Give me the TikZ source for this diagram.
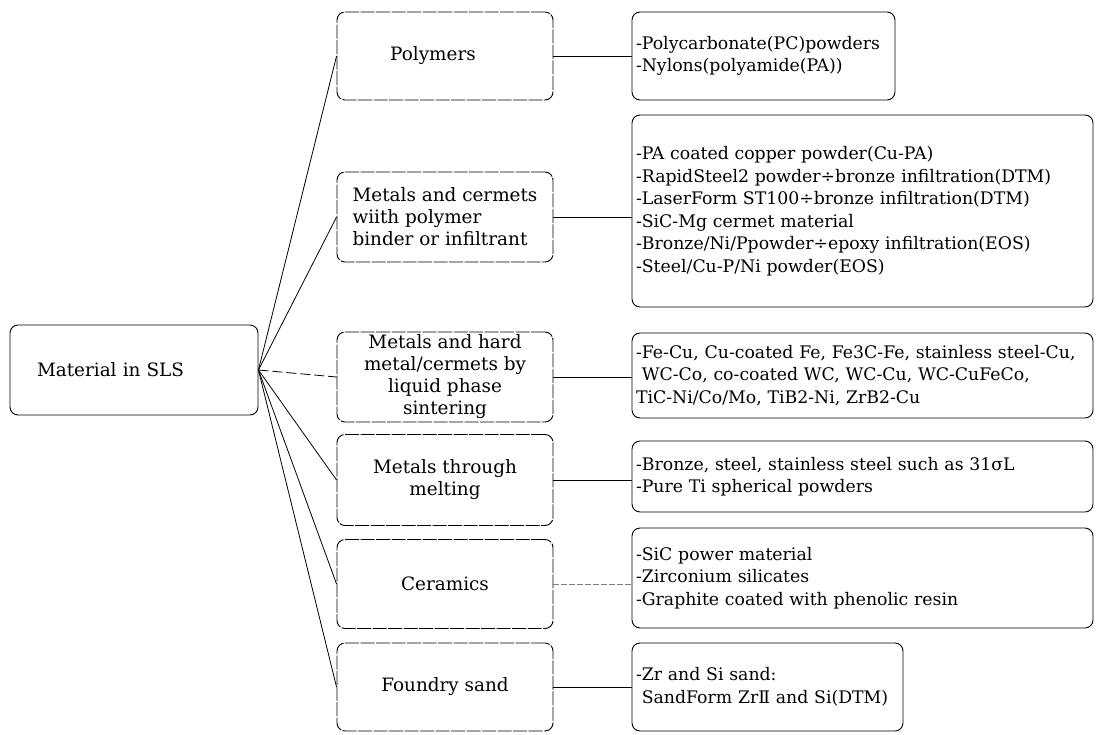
\documentclass[tikz,border=0pt]{standalone}
\usepackage{fontspec}
\setmainfont{DejaVu Serif}
\begin{document}
\begin{tikzpicture}[x=1pt,y=-1pt,
  bigfont/.style={font=\fontsize{18.4}{22}\selectfont},
  listfont/.style={font=\fontsize{17.3}{22.5}\selectfont},
  mainbox/.style={draw, line width=0.9pt, rounded corners=8pt, minimum height=90pt, inner xsep=27pt, inner ysep=0pt, text width=194pt, align=left, bigfont},
  midbox/.style={draw, line width=0.9pt, dash pattern=on 14pt off 1.5pt, rounded corners=8pt, minimum width=216pt, inner sep=0pt, align=center, bigfont},
  listbox/.style={draw, line width=0.9pt, rounded corners=8pt, inner xsep=4pt, inner ysep=0pt, align=left, listfont},
  link/.style={line width=0.8pt},
]
\useasboundingbox (0,0) rectangle (1098,734);
% main
\node[mainbox] (main) at (134,370) {Material in SLS};
% middle
\node[midbox, minimum height=88pt] (pol) at (445,56) {Polymers\hspace*{24pt}};
\node[midbox, minimum height=90pt, align=left] (cer) at (445,217) {Metals and cermets\\wiith polymer\\binder or infiltrant};
\node[midbox, minimum height=90pt] (hard) at (445,377) {Metals and hard\\metal/cermets by\\liquid phase\\sintering};
\node[midbox, minimum height=91pt] (melt) at (445,480) {Metals through\\melting};
\node[midbox, minimum height=89pt] (cera) at (445,584) {Ceramics};
\node[midbox, minimum height=88pt] (found) at (445,687) {Foundry sand};
% right
\node[listbox, text width=255pt, minimum height=88pt] (rpol) at (763.5,56) {-Polycarbonate(PC)powders\\-Nylons(polyamide(PA))};
\node[listbox, text width=453pt, minimum height=192pt] (rcer) at (862.5,211) {-PA coated copper powder(Cu-PA)\\-RapidSteel2 powder÷bronze infiltration(DTM)\\-LaserForm ST100÷bronze infiltration(DTM)\\-SiC-Mg cermet material\\-Bronze/Ni/Ppowder÷epoxy infiltration(EOS)\\-Steel/Cu-P/Ni powder(EOS)};
\node[listbox, text width=453pt, minimum height=85pt] (rhard) at (862.5,375.5) {-Fe-Cu, Cu-coated Fe, Fe3C-Fe, stainless steel-Cu,\\\ WC-Co, co-coated WC, WC-Cu, WC-CuFeCo,\\TiC-Ni/Co/Mo, TiB2-Ni, ZrB2-Cu};
\node[listbox, text width=453pt, minimum height=71pt] (rmelt) at (862.5,476.5) {-Bronze, steel, stainless steel such as 31σL\\-Pure Ti spherical powders};
\node[listbox, text width=453pt, minimum height=100pt] (rcera) at (862.5,578) {-SiC power material\\-Zirconium silicates\\-Graphite coated with phenolic resin};
\node[listbox, text width=263pt, minimum height=88pt] (rfound) at (767.5,687) {-Zr and Si sand:\\\ SandForm ZrⅡ and Si(DTM)};
% connectors main -> middle
\draw[link] (main.east) -- (pol.west);
\draw[link] (main.east) -- (cer.west);
\draw[link, dash pattern=on 10pt off 4pt] (main.east) -- (hard.west);
\draw[link] (main.east) -- (melt.west);
\draw[link] (main.east) -- (cera.west);
\draw[link] (main.east) -- (found.west);
% middle -> right
\draw[link] (pol.east) -- (rpol.west);
\draw[link] (cer.east) -- (cer.east -| rcer.west);
\draw[link] (hard.east) -- (hard.east -| rhard.west);
\draw[link] (melt.east) -- (melt.east -| rmelt.west);
\draw[link, gray, dash pattern=on 6pt off 2pt] (cera.east) -- (cera.east -| rcera.west);
\draw[link] (found.east) -- (rfound.west);
\end{tikzpicture}
\end{document}
